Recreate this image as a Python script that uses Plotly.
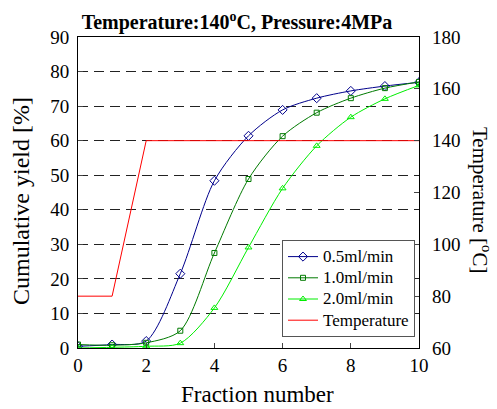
import plotly.graph_objects as go

fractions = [0, 1, 2, 3, 4, 5, 6, 7, 8, 9, 10]
yield_05 = [0.5, 1.0, 2.0, 21.5, 48.4, 61.4, 68.9, 72.3, 74.4, 75.8, 76.9]
yield_10 = [1.0, 0.8, 1.5, 5.0, 27.5, 48.9, 61.3, 68.1, 72.3, 75.2, 77.0]
yield_20 = [0.0, 0.2, 0.5, 1.4, 11.6, 29.1, 46.2, 58.5, 66.8, 72.1, 76.0]
temperature = [80, 80, 140, 140, 140, 140, 140, 140, 140, 140, 140]
series_names = ["0.5ml/min", "1.0ml/min", "2.0ml/min", "Temperature"]

FONT = "'Times New Roman', 'Liberation Serif', 'DejaVu Serif', serif"
W, H = 497, 409
L, R, T, B = 78, 78, 37, 61
PW, PH = W - L - R, H - T - B


def px(xp):
    return (xp - L) / PW


def py(yp):
    return (H - B - yp) / PH


def lg(name):
    return f"<span style='font-size:17px'>{name}</span>"


fig = go.Figure()
fig.add_trace(go.Scatter(x=fractions, y=yield_05, name=lg(series_names[0]), mode="lines+markers",
                         line=dict(color="#00008b", width=1, shape="spline", smoothing=0.8),
                         marker=dict(symbol="diamond-open", size=7, color="#00008b", line=dict(width=1))))
fig.add_trace(go.Scatter(x=fractions, y=yield_10, name=lg(series_names[1]), mode="lines+markers",
                         line=dict(color="#007a00", width=1, shape="spline", smoothing=0.8),
                         marker=dict(symbol="square-open", size=5, color="#007a00", line=dict(width=1))))
fig.add_trace(go.Scatter(x=fractions, y=yield_20, name=lg(series_names[2]), mode="lines+markers",
                         line=dict(color="#00ee00", width=1, shape="spline", smoothing=0.8),
                         marker=dict(symbol="triangle-up-open", size=6, color="#00ee00", line=dict(width=1))))
fig.add_trace(go.Scatter(x=fractions, y=temperature, name=lg(series_names[3]), mode="lines",
                         line=dict(color="#ff0000", width=1), yaxis="y2"))

fig.update_layout(
    width=W, height=H,
    margin=dict(l=L, r=R, t=T, b=B, autoexpand=False),
    plot_bgcolor="white", paper_bgcolor="white",
    font=dict(family=FONT, size=19, color="black"),
    title=dict(text="<b>Temperature:140<sup>o</sup>C, Pressure:4MPa</b>",
               x=237 / W, xanchor="center", yref="container", y=(H - 22) / H, yanchor="middle",
               font=dict(family=FONT, size=20, color="black")),
    xaxis=dict(range=[0, 10], tickvals=[0, 2, 4, 6, 8, 10], ticks="inside", ticklen=5,
               showline=True, linecolor="black", linewidth=1, mirror=True, showgrid=False,
               zeroline=False, automargin=False,
               tickfont=dict(family=FONT, size=19)),
    yaxis=dict(range=[0, 90], tickvals=list(range(0, 91, 10)), ticks="inside", ticklen=5,
               showline=True, linecolor="black", linewidth=1, mirror=True,
               showgrid=True, gridcolor="#222222", gridwidth=1, griddash="10px,6px",
               zeroline=False, automargin=False, ticklabelstandoff=4,
               tickfont=dict(family=FONT, size=19)),
    yaxis2=dict(range=[60, 180], tickvals=list(range(60, 181, 20)), overlaying="y", side="right",
                ticks="inside", ticklen=5, showline=False, showgrid=False, zeroline=False,
                automargin=False, ticklabelstandoff=12,
                tickfont=dict(family=FONT, size=19)),
    annotations=[
        dict(text="Fraction number", xref="paper", yref="paper", x=px(257), y=py(394),
             xanchor="center", yanchor="middle", showarrow=False, borderpad=0,
             font=dict(family=FONT, size=23, color="black")),
        dict(text="Cumulative yield [%]", textangle=-90, xref="paper", yref="paper",
             x=px(21), y=py(201), xanchor="center", yanchor="middle", showarrow=False,
             font=dict(family=FONT, size=24, color="black")),
        dict(text="Temperature [<sup>o</sup>C]", textangle=90, xref="paper", yref="paper",
             x=px(482), y=py(200), xanchor="center", yanchor="middle", showarrow=False,
             font=dict(family=FONT, size=21, color="black")),
    ],
    legend=dict(x=px(282), y=py(240), xanchor="left", yanchor="top",
                bgcolor="white", bordercolor="#555555", borderwidth=1,
                font=dict(family=FONT, size=14), tracegroupgap=0, itemwidth=30),
    showlegend=True,
)

fig.write_html("out.html", config={"displayModeBar": False},
               post_script="document.body.style.margin='0';document.body.style.padding='0';")
